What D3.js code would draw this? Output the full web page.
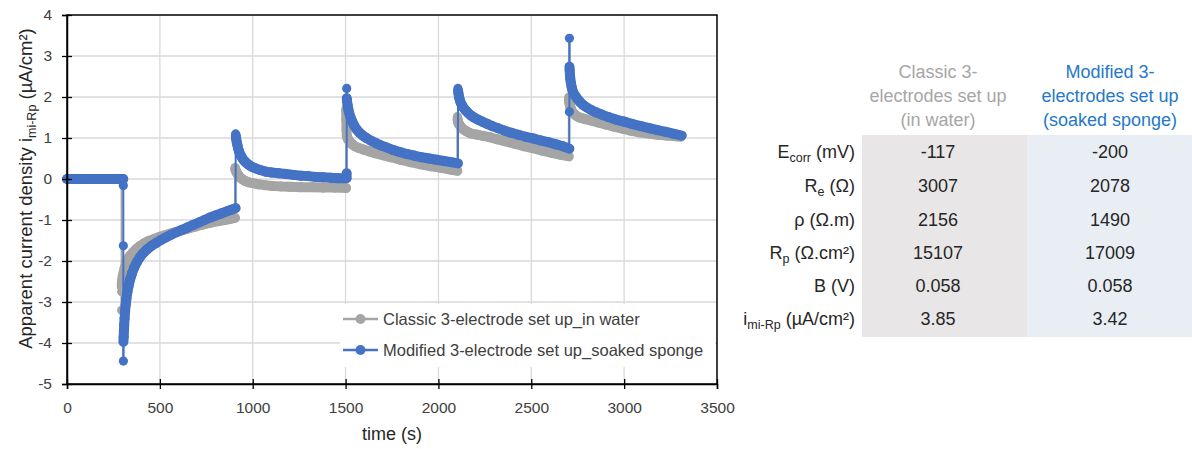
<!DOCTYPE html>
<html><head><meta charset="utf-8">
<script src="https://cdn.jsdelivr.net/npm/d3@7"></script>
<style>body{margin:0;background:#fff} svg{font-family:"Liberation Sans",Arial,sans-serif}</style>
</head><body><svg id="c" width="1192" height="449"></svg>
<script>
// ---------------- data ----------------
const xTicks = [0, 500, 1000, 1500, 2000, 2500, 3000, 3500];
const yTicks = [-5, -4, -3, -2, -1, 0, 1, 2, 3, 4];
const seriesNames = ["Classic 3-electrode set up_in water", "Modified 3-electrode set up_soaked sponge"];

const blueTime = [0,15,30,45,60,75,90,105,120,135,150,165,180,195,210,225,240,255,270,285,300,303,
 303.2,303.4,303.6,303.8,305,306.5,308,310,313,316,320,325,332,340,350,362,376,392,410,430,455,480,505,530,560,590,620,650,680,710,740,770,800,830,860,885,908,
 908.2,909,911,914,918,923,929,936,945,955,967,980,995,1015,1040,1070,1100,1140,1180,1220,1260,1300,1340,1380,1420,1460,1505,
 1506,1506.2,1506.4,1508,1511,1515,1520,1527,1536,1547,1560,1575,1592,1612,1635,1660,1690,1720,1755,1790,1830,1870,1910,1950,1990,2030,2070,2105,
 2105.2,2106,2108,2111,2115,2120,2127,2136,2147,2160,2175,2192,2212,2235,2260,2290,2320,2355,2390,2430,2470,2510,2550,2590,2630,2670,2705,
 2705.2,2705.4,2705.6,2706.6,2708,2710,2713,2717,2722,2729,2738,2749,2762,2778,2797,2820,2847,2880,2915,2955,3000,3045,3090,3135,3180,3225,3270,3310];
const blueCurrent = [0,0,0,0,0,0,0,0,0,0,0,0,0,0,0,0,0,0,0,0,0,0,
 -0.16,-1.63,-4.44,-3.97,-3.85,-3.7,-3.55,-3.4,-3.22,-3.07,-2.92,-2.76,-2.6,-2.45,-2.3,-2.16,-2.03,-1.91,-1.81,-1.72,-1.63,-1.56,-1.49,-1.43,-1.36,-1.3,-1.24,-1.18,-1.12,-1.06,-1.0,-0.94,-0.89,-0.84,-0.79,-0.75,-0.71,
 1.1,1.06,0.98,0.9,0.82,0.72,0.64,0.57,0.5,0.44,0.39,0.34,0.3,0.26,0.22,0.18,0.16,0.14,0.12,0.1,0.08,0.07,0.05,0.04,0.03,0.02,0.02,
 0.14,2.21,1.97,1.9,1.8,1.7,1.6,1.5,1.4,1.3,1.21,1.13,1.06,1.0,0.94,0.88,0.82,0.77,0.71,0.66,0.61,0.57,0.53,0.5,0.47,0.44,0.41,0.38,
 2.21,2.15,2.08,2.0,1.93,1.86,1.8,1.73,1.67,1.61,1.55,1.5,1.45,1.4,1.35,1.29,1.24,1.18,1.13,1.08,1.03,0.99,0.94,0.9,0.85,0.8,0.74,
 1.64,3.43,2.74,2.66,2.55,2.45,2.35,2.25,2.16,2.08,2.02,1.95,1.88,1.81,1.75,1.69,1.63,1.57,1.51,1.45,1.4,1.34,1.29,1.24,1.19,1.15,1.1,1.06];

const grayTime = [0,15,30,45,60,75,90,105,120,135,150,165,180,195,210,225,240,255,270,285,294,
 294.2,294.4,294.6,296,300,305,310,318,328,340,355,372,392,415,440,470,500,535,570,610,650,690,730,770,810,850,880,905,
 905.2,906,907,910,916,924,934,946,960,978,1000,1030,1065,1105,1150,1200,1260,1320,1380,1440,1503,
 1503.2,1504.2,1505.2,1506.5,1510,1516,1524,1535,1550,1570,1595,1625,1660,1700,1745,1795,1850,1905,1960,2015,2065,2102,
 2102.2,2103,2104,2106,2109,2115,2123,2134,2148,2165,2185,2210,2240,2275,2315,2360,2410,2460,2510,2560,2610,2660,2702,
 2702.2,2703,2704,2706,2709,2713,2718,2726,2737,2750,2766,2790,2820,2860,2900,2945,2990,3035,3080,3130,3180,3230,3280,3305];
const grayCurrent = [0,0,0,0,0,0,0,0,0,0,0,0,0,0,0,0,0,0,0,0,0,
 -3.2,-2.75,-2.62,-2.5,-2.38,-2.28,-2.18,-2.06,-1.96,-1.87,-1.79,-1.71,-1.64,-1.57,-1.51,-1.46,-1.41,-1.36,-1.31,-1.26,-1.21,-1.16,-1.11,-1.07,-1.03,-1.0,-0.97,-0.95,
 0.28,0.25,0.22,0.19,0.14,0.08,0.03,-0.01,-0.05,-0.08,-0.1,-0.13,-0.15,-0.17,-0.18,-0.19,-0.2,-0.2,-0.21,-0.21,-0.22,
 1.7,1.45,1.2,1.05,1.0,0.95,0.9,0.85,0.8,0.76,0.72,0.68,0.63,0.58,0.53,0.47,0.41,0.36,0.31,0.27,0.23,0.2,
 1.52,1.47,1.43,1.39,1.35,1.31,1.26,1.21,1.17,1.13,1.1,1.08,1.05,1.02,0.97,0.92,0.86,0.8,0.75,0.69,0.64,0.59,0.55,
 2.0,1.95,1.9,1.84,1.78,1.72,1.66,1.61,1.56,1.52,1.49,1.46,1.43,1.38,1.33,1.28,1.23,1.18,1.14,1.11,1.08,1.06,1.04,1.03];

const tableColumns = ["Classic 3-|electrodes set up|(in water)", "Modified 3-|electrodes set up|(soaked sponge)"];
const rowLabels = [["E","corr"," (mV)"],["R","e"," (Ω)"],["ρ (Ω.m)","",""],["R","p"," (Ω.cm²)"],["B (V)","",""],["i","mi-Rp"," (µA/cm²)"]];
const classicValues = ["-117","3007","2156","15107","0.058","3.85"];
const modifiedValues = ["-200","2078","1490","17009","0.058","3.42"];

// ---------------- chart ----------------
const svg = d3.select("#c");
const x = d3.scaleLinear().domain([0, 3500]).range([67, 717]);
const y = d3.scaleLinear().domain([-5, 4]).range([384, 15]);
const GRAY = "#A5A5A5", BLUE = "#4472C4";

// gridlines
const grid = svg.append("g");
grid.selectAll("line.v").data(xTicks.slice(1, -1)).join("line")
  .attr("x1", d => x(d)).attr("x2", d => x(d)).attr("y1", y(4)).attr("y2", y(-5))
  .attr("stroke", "#d9d9d9").attr("stroke-width", 1.3);
grid.selectAll("line.h").data(yTicks.slice(1, -1)).join("line")
  .attr("y1", d => y(d)).attr("y2", d => y(d)).attr("x1", x(0)).attr("x2", x(3500))
  .attr("stroke", "#d9d9d9").attr("stroke-width", 1.3);

function drawSeries(times, vals, color) {
  const g = svg.append("g");
  const pairs = d3.range(1, times.length).map(i => [i - 1, i]);
  g.selectAll("line").data(pairs).join("line")
    .attr("x1", p => x(times[p[0]])).attr("y1", p => y(vals[p[0]]))
    .attr("x2", p => x(times[p[1]])).attr("y2", p => y(vals[p[1]]))
    .attr("stroke", color).attr("stroke-linecap", "round")
    .attr("stroke-width", p => (times[p[1]] - times[p[0]] >= 1 ? 10 : 2));
  g.selectAll("circle").data(times).join("circle")
    .attr("cx", d => x(d)).attr("cy", (d, i) => y(vals[i])).attr("r", 4.6).attr("fill", color);
}
drawSeries(grayTime, grayCurrent, GRAY);
drawSeries(blueTime, blueCurrent, BLUE);

// axes
const ax = svg.append("g");
const fmt = d => String(d);
const xAxis = d3.axisBottom(x).tickValues(xTicks).tickSize(5).tickPadding(13).tickFormat(fmt);
const yAxis = d3.axisLeft(y).tickValues(yTicks).tickSize(5).tickPadding(10).tickFormat(fmt);
const gx = ax.append("g").attr("transform", `translate(0,${y(-5)})`).call(xAxis);
const gy = ax.append("g").attr("transform", `translate(${x(0)},0)`).call(yAxis);
gx.selectAll(".tick line").attr("y1", -5).attr("stroke", "#000").attr("stroke-width", 1.3);
gy.selectAll(".tick line").attr("x1", 5).attr("stroke", "#000").attr("stroke-width", 1.3);
[gx, gy].forEach(g => {
  g.select(".domain").attr("stroke", "#000").attr("stroke-width", 1.5);
  g.selectAll(".tick text").attr("font-size", 15.5).attr("font-family", "Liberation Sans, Arial, sans-serif").attr("fill", "#404040");
});
svg.append("rect").attr("x", x(0)).attr("y", y(4)).attr("width", x(3500) - x(0)).attr("height", y(-5) - y(4))
  .attr("fill", "none").attr("stroke", "#000").attr("stroke-width", 1.5);

// axis titles
svg.append("text").attr("x", (x(0) + x(3500)) / 2).attr("y", 440).attr("text-anchor", "middle")
  .attr("font-size", 18).attr("fill", "#262626").text("time (s)");
const yt = svg.append("text").attr("transform", "translate(32,188.5) rotate(-90)").attr("text-anchor", "middle")
  .attr("font-size", 18.5).attr("fill", "#262626");
yt.append("tspan").text("Apparent current density i");
yt.append("tspan").attr("font-size", 12.5).attr("dy", 4).text("mi-Rp");
yt.append("tspan").attr("dy", -4).text(" (µA/cm²)");

// legend
const lg = svg.append("g");
lg.append("rect").attr("x", 340).attr("y", 304).attr("width", 375).attr("height", 63).attr("fill", "#fff");
const legendColors = [GRAY, BLUE];
const legendY = [319, 350];
seriesNames.forEach((name, i) => {
  lg.append("line").attr("x1", 343).attr("x2", 378).attr("y1", legendY[i]).attr("y2", legendY[i])
    .attr("stroke", legendColors[i]).attr("stroke-width", 2.5);
  lg.append("circle").attr("cx", 360.5).attr("cy", legendY[i]).attr("r", 5).attr("fill", legendColors[i]);
  lg.append("text").attr("x", 383).attr("y", legendY[i] + 6).attr("font-size", 16.5).attr("fill", "#404040").text(name);
});

// ---------------- table ----------------
const tb = svg.append("g");
const colX = [938, 1110];
const colRect = [[862, 165], [1027, 165]];
const colBg = ["#E8E6E6", "#E9EEF5"];
const headColors = ["#A6A6A6", "#2478C6"];
const rowY = [152, 186, 219.5, 252.5, 285.5, 318.5];
colRect.forEach((r, i) => tb.append("rect").attr("x", r[0]).attr("y", 135).attr("width", r[1]).attr("height", 202).attr("fill", colBg[i]));
tableColumns.forEach((h, i) => {
  h.split("|").forEach((line, j) => {
    tb.append("text").attr("x", colX[i]).attr("y", 78 + j * 24).attr("text-anchor", "middle")
      .attr("font-size", 18).attr("fill", headColors[i]).text(line);
  });
});
rowLabels.forEach((lab, i) => {
  const t = tb.append("text").attr("x", 855).attr("y", rowY[i] + 6).attr("text-anchor", "end")
    .attr("font-size", 18).attr("fill", "#262626");
  t.append("tspan").text(lab[0]);
  if (lab[1]) {
    t.append("tspan").attr("font-size", 12.5).attr("dy", 4).text(lab[1]);
    t.append("tspan").attr("dy", -4).text(lab[2]);
  }
});
[classicValues, modifiedValues].forEach((vals, c) => {
  vals.forEach((v, i) => {
    tb.append("text").attr("x", colX[c]).attr("y", rowY[i] + 6).attr("text-anchor", "middle")
      .attr("font-size", 18).attr("fill", "#262626").text(v);
  });
});
</script></body></html>
